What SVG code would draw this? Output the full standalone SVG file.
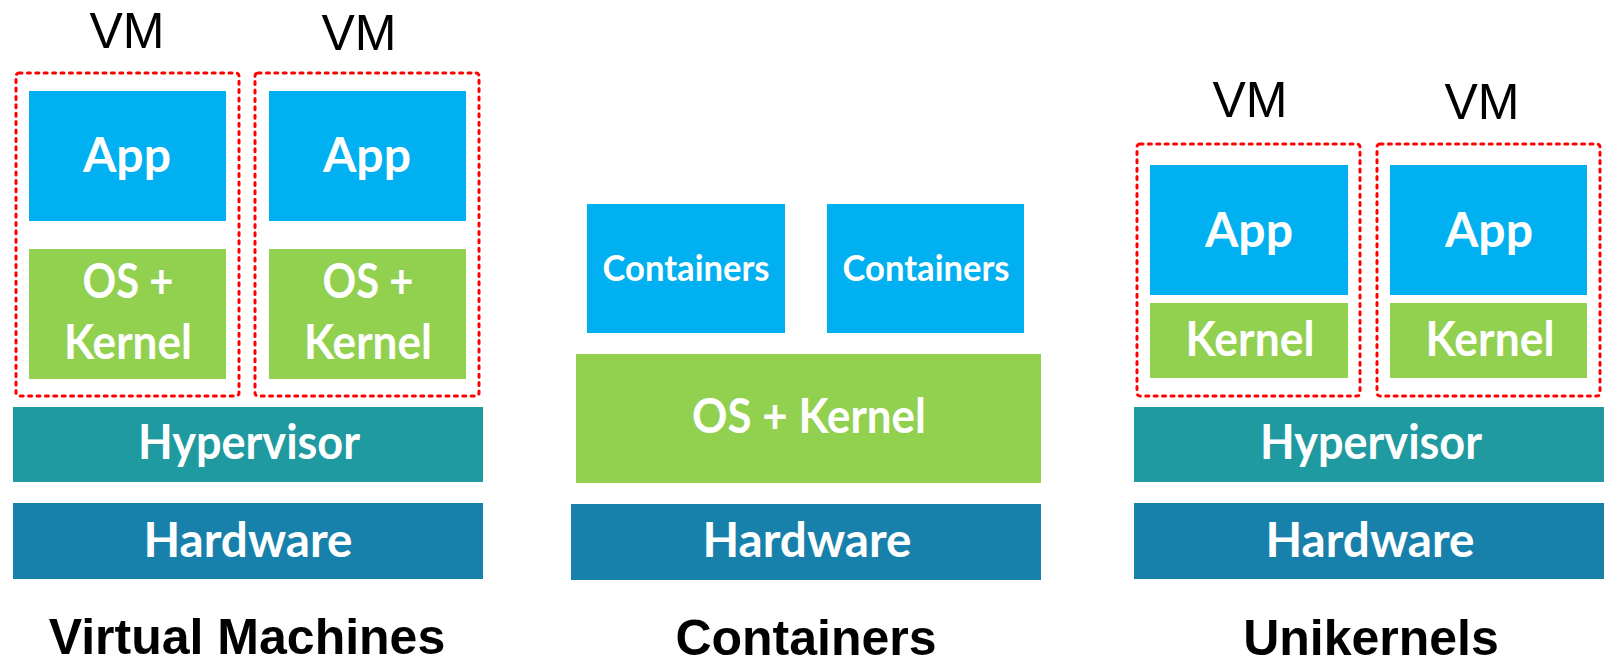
<svg xmlns="http://www.w3.org/2000/svg" width="1616" height="669" viewBox="0 0 1616 669">
<style>
.app{fill:#00B0F0}
.os{fill:#92D050}
.hyp{fill:#1F9AA0}
.hw{fill:#1781AB}
.vmbox{fill:none;stroke:#FF0000;stroke-width:3;stroke-dasharray:3 5.4;stroke-linecap:round}
.w{fill:#FFFFFF;font-family:Lato,"Open Sans","DejaVu Sans",sans-serif;font-weight:700;font-size:47px;text-anchor:middle}
.vm{fill:#000000;font-family:"Liberation Sans",Arial,sans-serif;font-size:50px;text-anchor:middle}
.title{fill:#000000;font-family:"Liberation Sans",Arial,sans-serif;font-weight:700;font-size:50px;text-anchor:middle}
</style>
<rect width="1616" height="669" fill="#FFFFFF"/>

<!-- Virtual Machines -->
<g id="vm-label-1"><text class="vm" x="127" y="48">VM</text></g>
<g id="vm-label-2"><text class="vm" x="359" y="50">VM</text></g>
<g id="vm-box-1"><rect class="vmbox" x="16" y="73" width="223" height="323" rx="3"/></g>
<g id="vm-box-2"><rect class="vmbox" x="255" y="73" width="224" height="323" rx="3"/></g>
<g id="vm-app-1"><rect class="app" x="29" y="91" width="197" height="130"/><text class="w" x="127" y="172" textLength="88" lengthAdjust="spacingAndGlyphs">App</text></g>
<g id="vm-app-2"><rect class="app" x="269" y="91" width="197" height="130"/><text class="w" x="367" y="172" textLength="88" lengthAdjust="spacingAndGlyphs">App</text></g>
<g id="vm-os-1"><rect class="os" x="29" y="249" width="197" height="130"/><text class="w" x="128" y="298" textLength="91" lengthAdjust="spacingAndGlyphs">OS +</text><text class="w" x="128" y="359" textLength="128" lengthAdjust="spacingAndGlyphs">Kernel</text></g>
<g id="vm-os-2"><rect class="os" x="269" y="249" width="197" height="130"/><text class="w" x="368" y="298" textLength="91" lengthAdjust="spacingAndGlyphs">OS +</text><text class="w" x="368" y="359" textLength="128" lengthAdjust="spacingAndGlyphs">Kernel</text></g>
<g id="vm-hypervisor"><rect class="hyp" x="13" y="407" width="470" height="75"/><text class="w" x="249" y="459" textLength="222" lengthAdjust="spacingAndGlyphs">Hypervisor</text></g>
<g id="vm-hardware"><rect class="hw" x="13" y="503" width="470" height="76"/><text class="w" x="248" y="557" textLength="209" lengthAdjust="spacingAndGlyphs">Hardware</text></g>
<g id="title-vm"><text class="title" x="247" y="654">Virtual Machines</text></g>

<!-- Containers -->
<g id="ct-1"><rect class="app" x="587" y="204" width="198" height="129"/><text class="w" x="686" y="281" style="font-size:37px" textLength="167" lengthAdjust="spacingAndGlyphs">Containers</text></g>
<g id="ct-2"><rect class="app" x="827" y="204" width="197" height="129"/><text class="w" x="926" y="281" style="font-size:37px" textLength="167" lengthAdjust="spacingAndGlyphs">Containers</text></g>
<g id="ct-os"><rect class="os" x="576" y="354" width="465" height="129"/><text class="w" x="809" y="433" textLength="234" lengthAdjust="spacingAndGlyphs">OS + Kernel</text></g>
<g id="ct-hardware"><rect class="hw" x="571" y="504" width="470" height="76"/><text class="w" x="807" y="557" textLength="209" lengthAdjust="spacingAndGlyphs">Hardware</text></g>
<g id="title-ct"><text class="title" x="806" y="655">Containers</text></g>

<!-- Unikernels -->
<g id="uk-label-1"><text class="vm" x="1250" y="117">VM</text></g>
<g id="uk-label-2"><text class="vm" x="1482" y="119">VM</text></g>
<g id="uk-box-1"><rect class="vmbox" x="1137" y="144" width="223" height="252" rx="3"/></g>
<g id="uk-box-2"><rect class="vmbox" x="1377" y="144" width="223" height="252" rx="3"/></g>
<g id="uk-app-1"><rect class="app" x="1150" y="165" width="198" height="130"/><text class="w" x="1249" y="247" textLength="88" lengthAdjust="spacingAndGlyphs">App</text></g>
<g id="uk-app-2"><rect class="app" x="1390" y="165" width="197" height="130"/><text class="w" x="1489" y="247" textLength="88" lengthAdjust="spacingAndGlyphs">App</text></g>
<g id="uk-kernel-1"><rect class="os" x="1150" y="303" width="198" height="75"/><text class="w" x="1250" y="356" textLength="129" lengthAdjust="spacingAndGlyphs">Kernel</text></g>
<g id="uk-kernel-2"><rect class="os" x="1390" y="303" width="197" height="75"/><text class="w" x="1490" y="356" textLength="129" lengthAdjust="spacingAndGlyphs">Kernel</text></g>
<g id="uk-hypervisor"><rect class="hyp" x="1134" y="407" width="470" height="75"/><text class="w" x="1371" y="459" textLength="222" lengthAdjust="spacingAndGlyphs">Hypervisor</text></g>
<g id="uk-hardware"><rect class="hw" x="1134" y="503" width="470" height="76"/><text class="w" x="1370" y="557" textLength="209" lengthAdjust="spacingAndGlyphs">Hardware</text></g>
<g id="title-uk"><text class="title" x="1371" y="655">Unikernels</text></g>

<g id="connectors"></g>
</svg>
